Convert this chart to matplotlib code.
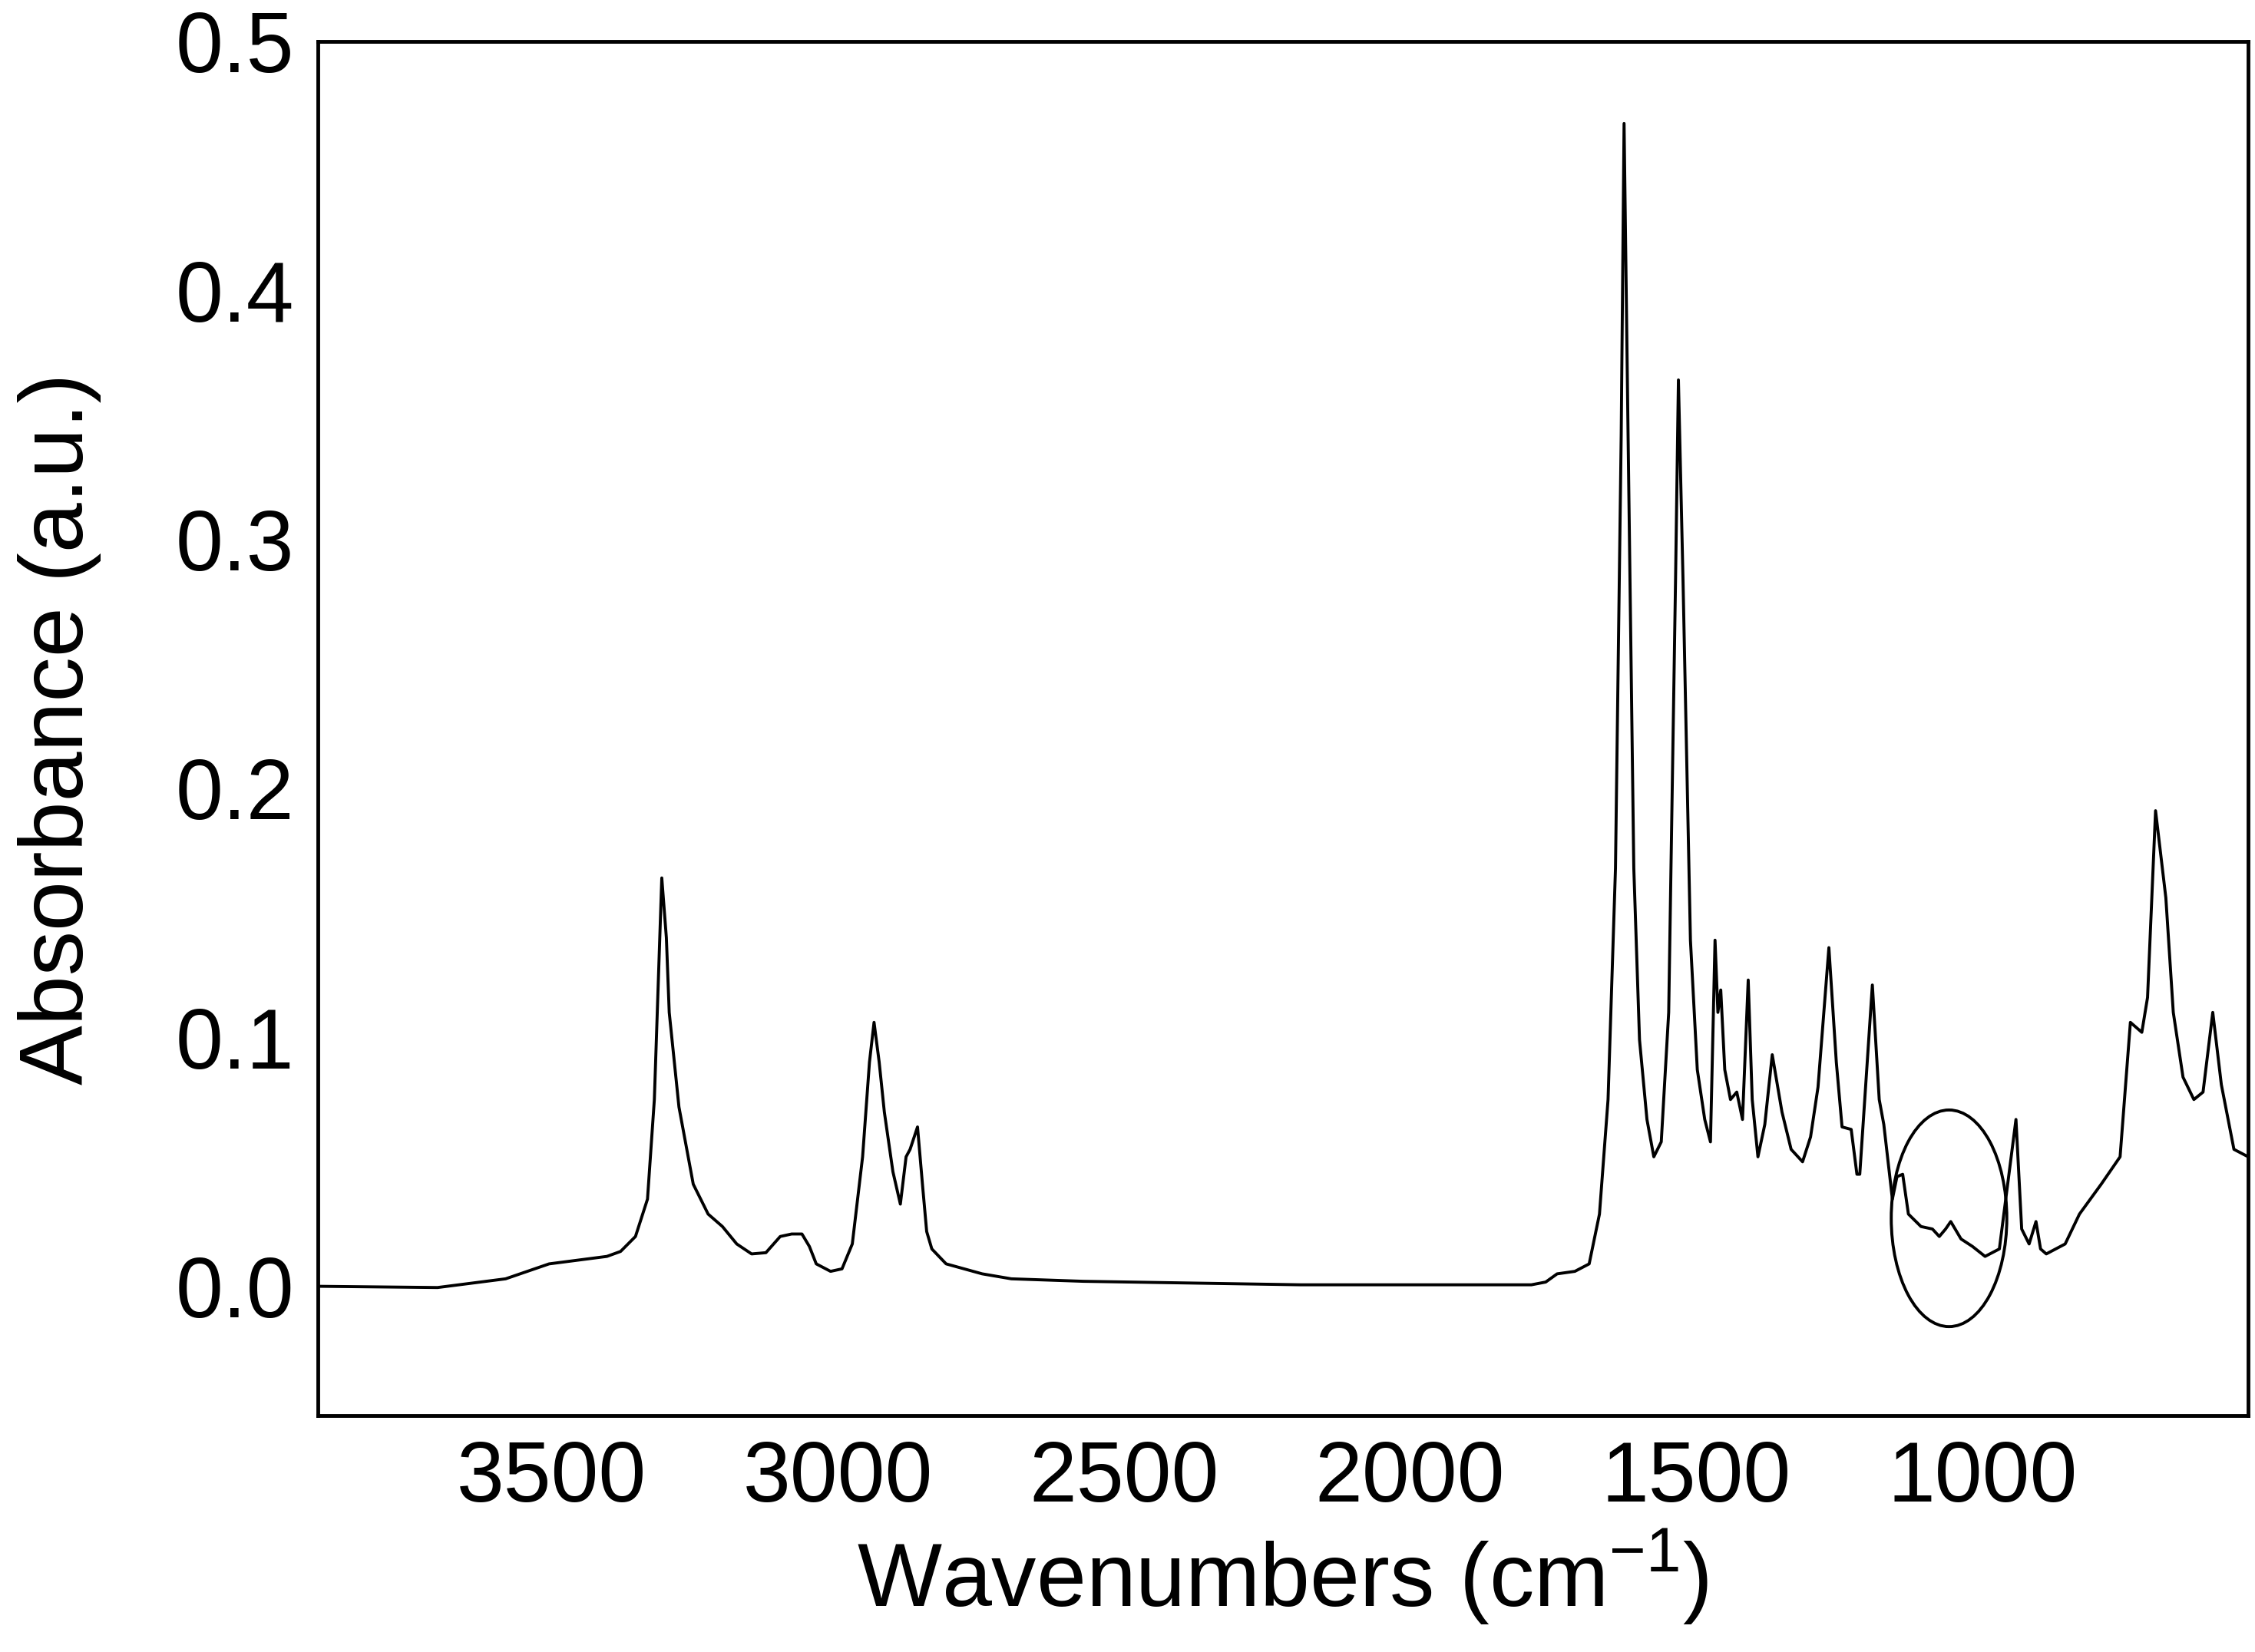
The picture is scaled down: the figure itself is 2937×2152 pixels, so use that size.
import matplotlib
matplotlib.use('Agg')
import matplotlib.pyplot as plt
from matplotlib.patches import Ellipse

plt.rcParams['font.family'] = ['Liberation Sans', 'DejaVu Sans']
plt.rcParams['mathtext.fontset'] = 'custom'
plt.rcParams['mathtext.rm'] = 'Liberation Sans'

# FTIR spectrum: (wavenumber, absorbance)
spectrum = [
    (3909, 0.0), (3700, -0.0005), (3581, 0.003), (3505, 0.009), (3404, 0.012), (3380, 0.014),
    (3354, 0.020), (3333, 0.035), (3321, 0.075), (3313, 0.130), (3308, 0.164), (3300, 0.140),
    (3295, 0.110), (3278, 0.072), (3253, 0.041), (3227, 0.029), (3202, 0.024), (3177, 0.017),
    (3151, 0.013), (3126, 0.0135), (3101, 0.020), (3081, 0.021), (3063, 0.021), (3050, 0.016),
    (3038, 0.009), (3013, 0.006), (2993, 0.007), (2975, 0.017), (2957, 0.052), (2945, 0.090),
    (2937, 0.106), (2928, 0.090), (2919, 0.070), (2904, 0.046), (2891, 0.033), (2881, 0.052),
    (2874, 0.055), (2861, 0.064), (2852, 0.040), (2845, 0.022), (2836, 0.015), (2811, 0.009),
    (2748, 0.005), (2697, 0.003), (2571, 0.002), (2192, 0.0006), (1788, 0.0006),
    (1763, 0.0017), (1743, 0.005), (1712, 0.006), (1687, 0.009), (1669, 0.029), (1654, 0.075),
    (1641, 0.168), (1631, 0.342), (1626, 0.467), (1619, 0.342), (1609, 0.168), (1599, 0.099),
    (1586, 0.067), (1574, 0.052), (1561, 0.058), (1548, 0.110), (1536, 0.284), (1531, 0.364),
    (1523, 0.284), (1510, 0.139), (1498, 0.087), (1485, 0.067), (1475, 0.058), (1467, 0.139),
    (1462, 0.110), (1457, 0.119), (1450, 0.087), (1440, 0.075), (1429, 0.078), (1419, 0.067),
    (1409, 0.123), (1402, 0.075), (1392, 0.052), (1380, 0.065), (1367, 0.093), (1350, 0.070),
    (1334, 0.055), (1314, 0.050), (1300, 0.060), (1287, 0.080), (1268, 0.136), (1255, 0.090),
    (1245, 0.064), (1229, 0.063), (1219, 0.045), (1214, 0.045), (1192, 0.121), (1180, 0.075),
    (1172, 0.065), (1157, 0.035), (1149, 0.044), (1139, 0.045), (1129, 0.029), (1107, 0.024),
    (1087, 0.023), (1075, 0.020), (1064, 0.023), (1055, 0.026), (1037, 0.019), (1017, 0.016),
    (995, 0.012), (970, 0.015), (941, 0.067), (931, 0.023), (918, 0.017), (906, 0.026),
    (898, 0.015), (888, 0.013), (855, 0.017), (830, 0.029), (792, 0.041), (759, 0.052),
    (741, 0.106), (721, 0.102), (711, 0.116), (697, 0.191), (679, 0.156), (666, 0.110),
    (649, 0.084), (630, 0.075), (614, 0.078), (597, 0.110), (582, 0.081), (560, 0.055),
    (535, 0.052),
]
wavenumber = [w for w, a in spectrum]
absorbance = [a for w, a in spectrum]

x_ticks = [3500, 3000, 2500, 2000, 1500, 1000]
y_ticks = [0.0, 0.1, 0.2, 0.3, 0.4, 0.5]

fig = plt.figure(figsize=(29.37, 21.52), dpi=100)
ax = fig.add_axes([0.141, 0.143, 0.856, 0.832])
ax.plot(wavenumber, absorbance, color='black', linewidth=2.8)

# circled region
ax.add_patch(Ellipse((1058, 0.0273), 202, 0.087, fill=False, edgecolor='black', linewidth=2.8))

ax.set_xlim(3909, 535)
ax.set_ylim(-0.052, 0.5)
ax.set_xticks(x_ticks)
ax.set_yticks(y_ticks)
ax.set_yticklabels(['%.1f' % v for v in y_ticks])
ax.tick_params(length=0, labelsize=80, pad=22)
for s in ax.spines.values():
    s.set_linewidth(3.5)

ax.set_xlabel('Wavenumbers (cm$^{\\mathrm{-1}}$)', fontsize=84, labelpad=8)
ax.set_ylabel('Absorbance (a.u.)', fontsize=84, labelpad=70)

fig.savefig('out.png', dpi=100)
